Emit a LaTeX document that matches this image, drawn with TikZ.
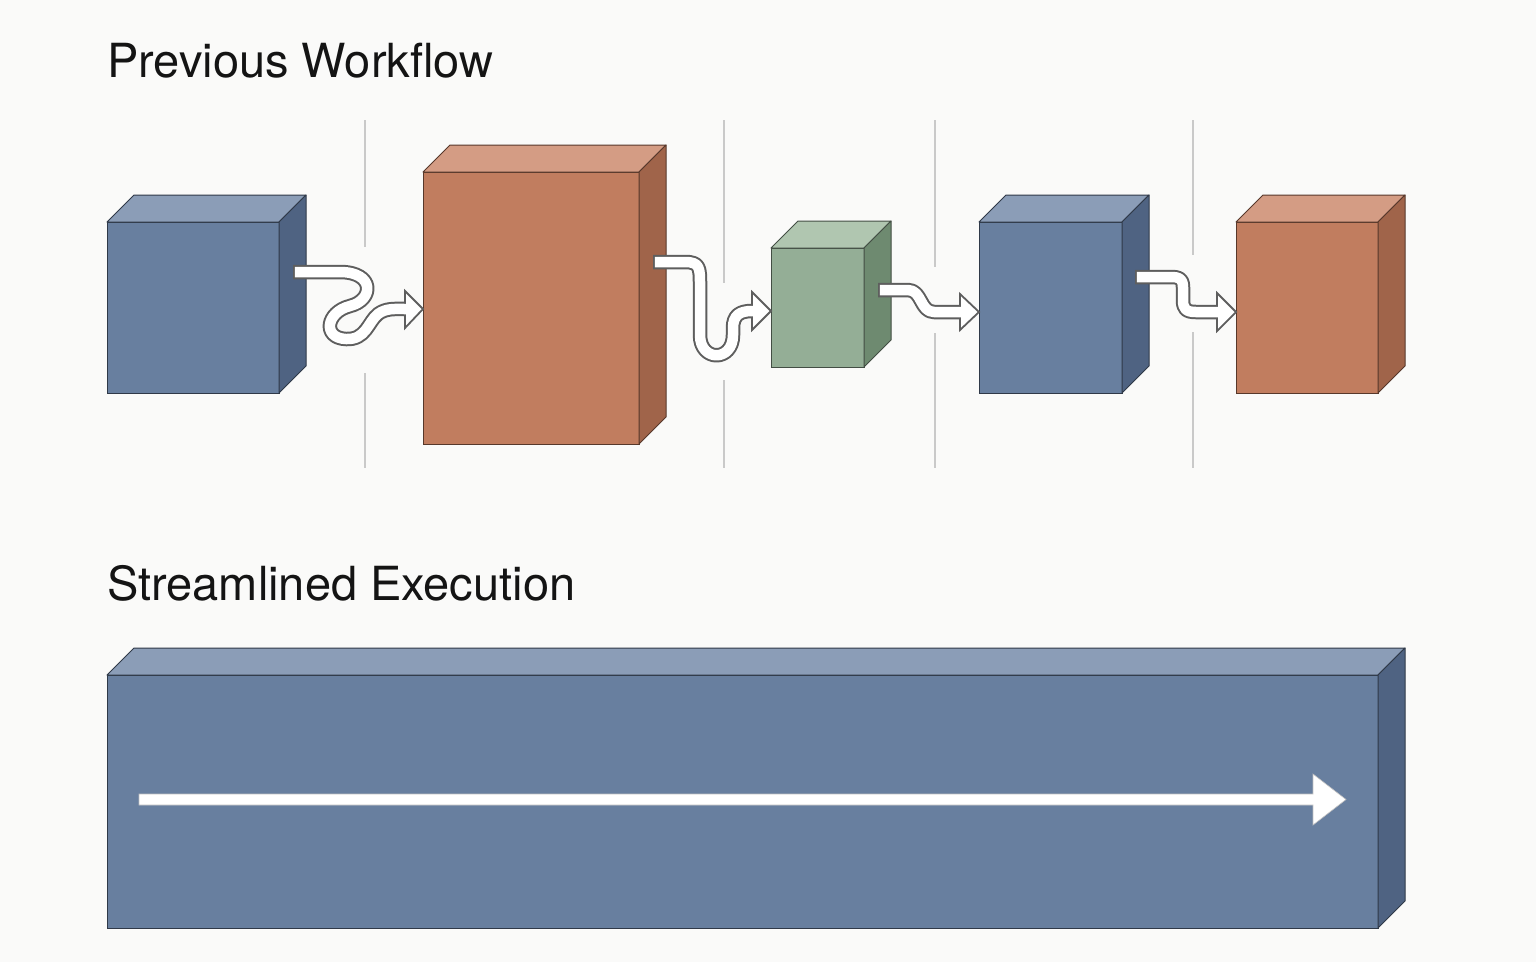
\documentclass[tikz,border=0pt]{standalone}
\usepackage{fontspec}
\setmainfont{TeX Gyre Heros}
\definecolor{bg}{HTML}{FAFAF9}
\definecolor{bfront}{HTML}{687F9F}
\definecolor{btop}{HTML}{8B9DB7}
\definecolor{bside}{HTML}{4F6382}
\definecolor{ofront}{HTML}{C17D5F}
\definecolor{otop}{HTML}{D49C84}
\definecolor{oside}{HTML}{A0644A}
\definecolor{gfront}{HTML}{94AE96}
\definecolor{gtop}{HTML}{B0C6B0}
\definecolor{gside}{HTML}{6E8A70}
\definecolor{sepline}{HTML}{C9C9C9}
\definecolor{arrgray}{HTML}{5E5E5E}
\newcommand{\mycuboid}[4]{%
  \fill[#3, draw=#2!45!black, line width=1pt, line join=round]
    (#1.north west) -- ++(27,-27) -- ([shift={(27,-27)}]#1.north east) -- (#1.north east) -- cycle;
  \fill[#4, draw=#2!45!black, line width=1pt, line join=round]
    (#1.north east) -- ++(27,-27) -- ([shift={(27,-27)}]#1.south east) -- (#1.south east) -- cycle;
}
\tikzset{
  front/.style={draw=#1!45!black, fill=#1, line width=1pt, inner sep=0pt, outer sep=0pt},
  title/.style={anchor=base west, inner sep=0pt, font=\fontsize{47}{56}\selectfont, text=black!92},
  sep/.style={draw=sepline, line width=1.6pt},
  shaftout/.style={draw=arrgray, line width=14.5pt, line cap=butt, line join=round},
  shaftin/.style={draw=white, line width=10.5pt, line cap=butt, line join=round, shorten <=1.8pt},
  headst/.style={fill=white, draw=arrgray, line width=1.8pt, line join=miter},
}
\begin{document}
\begin{tikzpicture}[x=1pt, y=-1pt]
\useasboundingbox (0,0) rectangle (1536,962);
\fill[bg] (0,0) rectangle (1536,962);

\node[title] (t1) at (107,77) {Previous Workflow};
\node[title] (t2) at (107,600) {Streamlined Execution};

% separators
\draw[sep] (365,120) -- (365,247) (365,373) -- (365,468);
\draw[sep] (724,120) -- (724,283) (724,380) -- (724,468);
\draw[sep] (935,120) -- (935,267) (935,333) -- (935,468);
\draw[sep] (1193,120) -- (1193,255) (1193,332) -- (1193,468);

% boxes
\node[front=bfront, minimum width=172pt, minimum height=171pt] (b1) at (193,307.5) {};
\mycuboid{b1}{bfront}{btop}{bside}
\node[front=ofront, minimum width=216pt, minimum height=272pt] (b2) at (531,308) {};
\mycuboid{b2}{ofront}{otop}{oside}
\node[front=gfront, minimum width=93pt, minimum height=119pt] (b3) at (817.5,307.5) {};
\mycuboid{b3}{gfront}{gtop}{gside}
\node[front=bfront, minimum width=143pt, minimum height=171pt] (b4) at (1050.5,307.5) {};
\mycuboid{b4}{bfront}{btop}{bside}
\node[front=ofront, minimum width=142pt, minimum height=171pt] (b5) at (1307,307.5) {};
\mycuboid{b5}{ofront}{otop}{oside}

\node[front=bfront, minimum width=1271pt, minimum height=253pt] (big) at (742.5,801.5) {};
\mycuboid{big}{bfront}{btop}{bside}

% arrow 1: b1 -> b2
\coordinate (s1) at (293,272);
\coordinate (h1) at (405,309);
\path[shaftout] (s1) -- (340,272) .. controls (375,272) and (374,300) .. (350,306) .. controls (326,312) and (322,338) .. (346,339) .. controls (366,340) and (368,322) .. (378,314) .. controls (386,308) and (395,309) .. (h1);
\fill[headst] (405,291) -- ([yshift=-1pt]b2.west) -- (405,328) -- cycle;
\path[shaftin] (s1) -- (340,272) .. controls (375,272) and (374,300) .. (350,306) .. controls (326,312) and (322,338) .. (346,339) .. controls (366,340) and (368,322) .. (378,314) .. controls (386,308) and (395,309) .. (h1) -- ++(2,0);

% arrow 2: b2 -> b3
\coordinate (s2) at (653,262);
\coordinate (h2) at (752,311);
\path[shaftout] (s2) -- (685,262) .. controls (700,262) and (700,268) .. (700,285) -- (700,335) .. controls (700,362) and (733,362) .. (733,335) -- (733,328) .. controls (733,315) and (740,311) .. (h2);
\fill[headst] (752,292) -- ([yshift=-3.5pt]b3.west) -- (752,330) -- cycle;
\path[shaftin] (s2) -- (685,262) .. controls (700,262) and (700,268) .. (700,285) -- (700,335) .. controls (700,362) and (733,362) .. (733,335) -- (733,328) .. controls (733,315) and (740,311) .. (h2) -- ++(2,0);

% arrow 3: b3 -> b4
\coordinate (s3) at (878,290);
\coordinate (h3) at (960,312);
\path[shaftout] (s3) -- (908,290) .. controls (922,290) and (920,312) .. (934,312) -- (h3);
\fill[headst] (960,294) -- ([yshift=-4.5pt]b4.west) -- (960,330) -- cycle;
\path[shaftin] (s3) -- (908,290) .. controls (922,290) and (920,312) .. (934,312) -- (h3) -- ++(2,0);

% arrow 4: b4 -> b5
\coordinate (s4) at (1135,277);
\coordinate (h4) at (1217,312);
\path[shaftout] (s4) -- (1172,277) .. controls (1184,277) and (1183,284) .. (1183,292) -- (1183,300) .. controls (1183,309) and (1186,312) .. (1196,312) -- (h4);
\fill[headst] (1217,293) -- ([yshift=-4.5pt]b5.west) -- (1217,331) -- cycle;
\path[shaftin] (s4) -- (1172,277) .. controls (1184,277) and (1183,284) .. (1183,292) -- (1183,300) .. controls (1183,309) and (1186,312) .. (1196,312) -- (h4) -- ++(2,0);

% big arrow
\coordinate (bs) at (139,799.5);
\coordinate (bt) at (1346,799.5);
\fill[white, draw=black!25, line width=0.6pt, line join=miter]
  (139,794) -- (1313,794) -- (1313,774) -- (bt) -- (1313,825) -- (1313,805) -- (139,805) -- cycle;
\end{tikzpicture}
\end{document}
